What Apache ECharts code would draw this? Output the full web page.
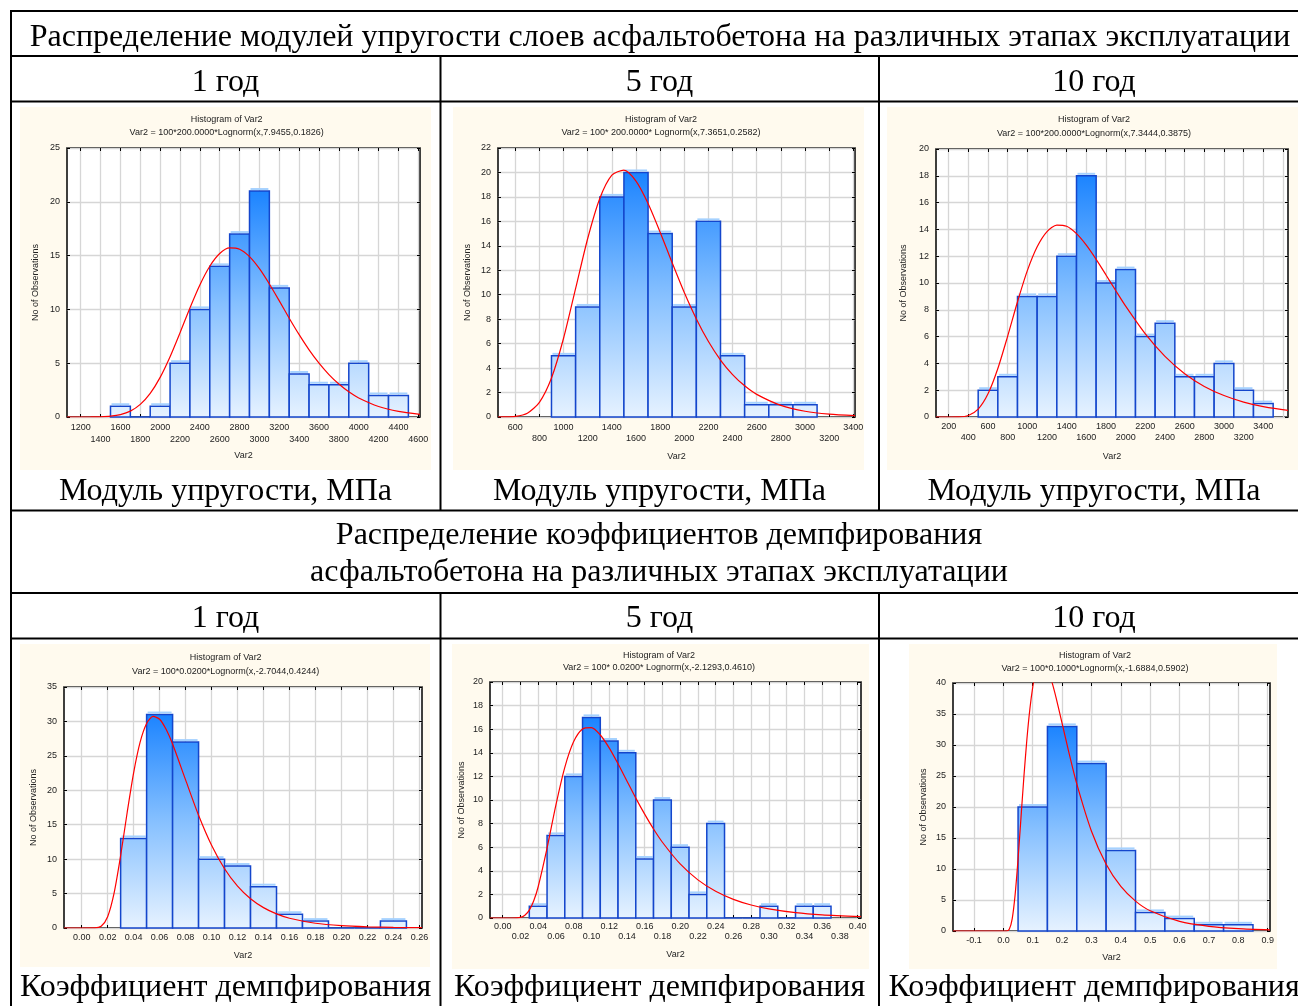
<!DOCTYPE html>
<html>
<head>
<meta charset="utf-8">
<script src="https://cdn.jsdelivr.net/npm/echarts@6/dist/echarts.min.js"></script>
<style>
html, body { margin: 0; padding: 0; background: #fff; }
#main { width: 1298px; height: 1006px; }
</style>
</head>
<body>
<div id="main"></div>
<script>
// модуль упругости, 1 год: нижние границы интервалов и частоты
var mod1Edges = [1500, 1700, 1900, 2100, 2300, 2500, 2700, 2900, 3100, 3300, 3500, 3700, 3900, 4100, 4300];
var mod1Counts = [1, 0, 1, 5, 10, 14, 17, 21, 12, 4, 3, 3, 5, 2, 2];
var mod1Ticks = [1200, 1400, 1600, 1800, 2000, 2200, 2400, 2600, 2800, 3000, 3200, 3400, 3600, 3800, 4000, 4200, 4400, 4600];
var mod1CurveX = [1062, 1300, 1400, 1500, 1600, 1700, 1800, 1900, 2000, 2100, 2200, 2300, 2400, 2500, 2600, 2700, 2800, 2900, 3000, 3100, 3200, 3300, 3400, 3500, 3600, 3700, 3800, 3900, 4000, 4200, 4400, 4617];
var mod1CurveY = [0, 0.004, 0.02, 0.073, 0.218, 0.544, 1.17, 2.19, 3.68, 5.60, 7.82, 10.13, 12.27, 14.01, 15.19, 15.71, 15.59, 14.90, 13.78, 12.36, 10.79, 9.18, 7.65, 6.24, 5.00, 3.94, 3.06, 2.34, 1.77, 0.98, 0.52, 0.25];

// модуль упругости, 5 год
var mod5Edges = [900, 1100, 1300, 1500, 1700, 1900, 2100, 2300, 2500, 2700, 2900];
var mod5Counts = [5, 9, 18, 20, 15, 9, 16, 5, 1, 1, 1];
var mod5Ticks = [600, 800, 1000, 1200, 1400, 1600, 1800, 2000, 2200, 2400, 2600, 2800, 3000, 3200, 3400];
var mod5CurveX = [457, 500, 600, 700, 800, 900, 1000, 1100, 1200, 1300, 1400, 1500, 1600, 1700, 1800, 1900, 2000, 2100, 2200, 2300, 2400, 2500, 2600, 2800, 3000, 3200, 3414];
var mod5CurveY = [0, 0.003, 0.046, 0.31, 1.20, 3.19, 6.44, 10.52, 14.60, 17.87, 19.78, 20.19, 19.29, 17.46, 15.11, 12.60, 10.18, 8.02, 6.17, 4.66, 3.47, 2.55, 1.85, 0.95, 0.47, 0.23, 0.105];

// модуль упругости, 10 год
var mod10Edges = [500, 700, 900, 1100, 1300, 1500, 1700, 1900, 2100, 2300, 2500, 2700, 2900, 3100, 3300];
var mod10Counts = [2, 3, 9, 9, 12, 18, 10, 11, 6, 7, 3, 3, 4, 2, 1];
var mod10Ticks = [200, 400, 600, 800, 1000, 1200, 1400, 1600, 1800, 2000, 2200, 2400, 2600, 2800, 3000, 3200, 3400, 3600];
var mod10CurveX = [71, 200, 300, 400, 500, 600, 700, 800, 900, 1000, 1100, 1200, 1300, 1400, 1500, 1600, 1700, 1800, 1900, 2000, 2200, 2400, 2600, 2800, 3000, 3200, 3400, 3651];
var mod10CurveY = [0, 0.0003, 0.009, 0.116, 0.587, 1.73, 3.62, 6.04, 8.60, 10.92, 12.70, 13.83, 14.32, 14.23, 13.68, 12.82, 11.76, 10.60, 9.42, 8.27, 6.20, 4.52, 3.23, 2.28, 1.60, 1.11, 0.77, 0.49];

// коэффициент демпфирования, 1 год
var damp1Edges = [0.03, 0.05, 0.07, 0.09, 0.11, 0.13, 0.15, 0.17, 0.19, 0.21, 0.23];
var damp1Counts = [13, 31, 27, 10, 9, 6, 2, 1, 0, 0, 1];
var damp1Ticks = [0, 0.02, 0.04, 0.06, 0.08, 0.10, 0.12, 0.14, 0.16, 0.18, 0.20, 0.22, 0.24, 0.26];
var damp1CurveX = [-0.0136, 0, 0.01, 0.015, 0.02, 0.025, 0.03, 0.035, 0.04, 0.045, 0.05, 0.055, 0.06, 0.065, 0.07, 0.08, 0.09, 0.10, 0.11, 0.12, 0.13, 0.14, 0.15, 0.16, 0.18, 0.20, 0.22, 0.24, 0.262];
var damp1CurveY = [0, 0, 0.008, 0.25, 1.64, 5.10, 10.50, 16.74, 22.54, 26.99, 29.71, 30.72, 30.32, 28.86, 26.71, 21.51, 16.37, 12.01, 8.61, 6.08, 4.25, 2.96, 2.05, 1.42, 0.69, 0.34, 0.17, 0.085, 0.041];

// коэффициент демпфирования, 5 год
var damp5Edges = [0.03, 0.05, 0.07, 0.09, 0.11, 0.13, 0.15, 0.17, 0.19, 0.21, 0.23, 0.25, 0.27, 0.29, 0.31, 0.33, 0.35];
var damp5Counts = [1, 7, 12, 17, 15, 14, 5, 10, 6, 2, 8, 0, 0, 1, 0, 1, 1];
var damp5Ticks = [0, 0.02, 0.04, 0.06, 0.08, 0.10, 0.12, 0.14, 0.16, 0.18, 0.20, 0.22, 0.24, 0.26, 0.28, 0.30, 0.32, 0.34, 0.36, 0.38, 0.40];
var damp5CurveX = [-0.0143, 0, 0.01, 0.02, 0.025, 0.03, 0.035, 0.04, 0.05, 0.06, 0.07, 0.08, 0.09, 0.10, 0.11, 0.12, 0.13, 0.14, 0.15, 0.16, 0.17, 0.18, 0.20, 0.22, 0.24, 0.26, 0.28, 0.30, 0.33, 0.36, 0.4038];
var damp5CurveY = [0, 0, 0, 0.049, 0.227, 0.665, 1.46, 2.65, 5.92, 9.59, 12.77, 14.95, 16.02, 16.13, 15.51, 14.42, 13.07, 11.61, 10.16, 8.80, 7.54, 6.42, 4.58, 3.23, 2.26, 1.58, 1.10, 0.77, 0.45, 0.27, 0.127];

// коэффициент демпфирования, 10 год
var damp10Edges = [0.05, 0.15, 0.25, 0.35, 0.45, 0.55, 0.65, 0.75];
var damp10Counts = [20, 33, 27, 13, 3, 2, 1, 1];
var damp10Ticks = [-0.1, 0, 0.1, 0.2, 0.3, 0.4, 0.5, 0.6, 0.7, 0.8, 0.9];
var damp10CurveX = [-0.1716, 0, 0.01, 0.02, 0.03, 0.04, 0.05, 0.06, 0.07, 0.08, 0.09, 0.10, 0.11, 0.12, 0.13, 0.14, 0.15, 0.16, 0.17, 0.18, 0.20, 0.22, 0.25, 0.30, 0.35, 0.40, 0.45, 0.50, 0.60, 0.70, 0.80, 0.908];
var damp10CurveY = [0, 0, 0.003, 0.28, 1.96, 5.86, 11.63, 18.32, 24.96, 30.88, 35.72, 39.34, 41.75, 43.10, 43.53, 43.22, 42.33, 41.01, 39.36, 37.51, 33.50, 29.41, 23.72, 16.09, 10.76, 7.18, 4.82, 3.26, 1.54, 0.76, 0.39, 0.196];

var formulas = [
  'Var2 = 100*200.0000*Lognorm(x,7.9455,0.1826)',
  'Var2 = 100* 200.0000* Lognorm(x,7.3651,0.2582)',
  'Var2 = 100*200.0000*Lognorm(x,7.3444,0.3875)',
  'Var2 = 100*0.0200*Lognorm(x,-2.7044,0.4244)',
  'Var2 = 100* 0.0200* Lognorm(x,-2.1293,0.4610)',
  'Var2 = 100*0.1000*Lognorm(x,-1.6884,0.5902)'
];
var years = ['1 год', '5 год', '10 год'];

var SANS = 'Liberation Sans, Arial, sans-serif';
var SERIF = 'Liberation Serif, Times New Roman, serif';

// расположение панелей (координаты в пикселях страницы)
var panels = [
  { edges: mod1Edges, counts: mod1Counts, bw: 200, cx: mod1CurveX, cy: mod1CurveY, ticks: mod1Ticks,
    xMin: 1062, xMax: 4617, yMax: 25, yStep: 5, digits: 0, twoRows: true,
    box: [20, 107, 411, 363], grid: [67, 148, 353, 269], tx: 226.7, ty: [120, 133],
    lm: 5, lh: 11.6, gapX: 34, gapY: 27 },
  { edges: mod5Edges, counts: mod5Counts, bw: 200, cx: mod5CurveX, cy: mod5CurveY, ticks: mod5Ticks,
    xMin: 457, xMax: 3414, yMax: 22, yStep: 2, digits: 0, twoRows: true,
    box: [453, 107, 411, 363], grid: [498, 148, 357, 269], tx: 661, ty: [120, 133],
    lm: 5, lh: 11, gapX: 35, gapY: 26 },
  { edges: mod10Edges, counts: mod10Counts, bw: 200, cx: mod10CurveX, cy: mod10CurveY, ticks: mod10Ticks,
    xMin: 71, xMax: 3651, yMax: 20, yStep: 2, digits: 0, twoRows: true,
    box: [887, 107, 411, 363], grid: [936, 149, 352, 268], tx: 1094, ty: [120, 134],
    lm: 4, lh: 11, gapX: 35, gapY: 28 },
  { edges: damp1Edges, counts: damp1Counts, bw: 0.02, cx: damp1CurveX, cy: damp1CurveY, ticks: damp1Ticks,
    xMin: -0.0136, xMax: 0.262, yMax: 35, yStep: 5, digits: 2, twoRows: false,
    box: [20, 644, 410, 323], grid: [64, 687, 358, 241], tx: 225.7, ty: [658, 672],
    lm: 4, lh: 11, gapX: 23.5, gapY: 26 },
  { edges: damp5Edges, counts: damp5Counts, bw: 0.02, cx: damp5CurveX, cy: damp5CurveY, ticks: damp5Ticks,
    xMin: -0.0143, xMax: 0.4038, yMax: 20, yStep: 2, digits: 2, twoRows: true,
    box: [452, 644, 417, 325], grid: [490, 682, 371, 236], tx: 659, ty: [656, 668],
    lm: 4, lh: 10, gapX: 32, gapY: 24 },
  { edges: damp10Edges, counts: damp10Counts, bw: 0.1, cx: damp10CurveX, cy: damp10CurveY, ticks: damp10Ticks,
    xMin: -0.1716, xMax: 0.908, yMax: 40, yStep: 5, digits: 1, twoRows: false,
    box: [909, 644, 368, 325], grid: [953, 683, 317, 248], tx: 1095, ty: [656, 669],
    lm: 4, lh: 11, gapX: 22, gapY: 24.5 }
];

var myChart = echarts.init(document.getElementById('main'));

var option = {
  animation: false,
  backgroundColor: '#fff',
  grid: [], xAxis: [], yAxis: [], series: [], graphic: []
};

function txt(s, x, y, size, family, color) {
  return {
    type: 'text', z: 10,
    style: {
      text: s, x: x, y: y, fontSize: size, fontFamily: family, fill: color || '#000',
      textAlign: 'center', textVerticalAlign: 'middle', align: 'center', verticalAlign: 'middle'
    }
  };
}
function hline(y, x1, x2) {
  return { type: 'line', z: 10, shape: { x1: x1, y1: y, x2: x2, y2: y }, style: { stroke: '#000', lineWidth: 2 } };
}
function vline(x, y1, y2) {
  return { type: 'line', z: 10, shape: { x1: x, y1: y1, x2: x, y2: y2 }, style: { stroke: '#000', lineWidth: 2 } };
}

var labelColor = '#222';

panels.forEach(function (p, i) {
  var step = p.ticks[1] - p.ticks[0];
  var tickStyle = { color: '#000', width: 1 };

  option.grid.push({
    left: p.grid[0], top: p.grid[1], width: p.grid[2], height: p.grid[3],
    show: true, backgroundColor: '#fff', borderColor: '#000', borderWidth: 1.5
  });

  option.xAxis.push({
    gridIndex: i, type: 'value', min: p.xMin, max: p.xMax,
    axisLine: { show: false, onZero: false },
    axisTick: { show: true, inside: true, length: 3, customValues: p.ticks, lineStyle: tickStyle },
    axisLabel: {
      customValues: p.ticks, margin: p.lm, fontSize: 9, fontFamily: SANS, color: labelColor,
      lineHeight: p.lh,
      formatter: function (v) {
        var s = v.toFixed(p.digits);
        if (!p.twoRows) return s;
        var k = Math.round((v - p.ticks[0]) / step);
        return k % 2 ? '\n' + s : s;
      }
    },
    splitLine: { show: true, lineStyle: { color: '#d6d6d6', width: 1.3 } },
    name: 'Var2', nameLocation: 'middle', nameGap: p.gapX,
    nameTextStyle: { fontSize: 9, fontFamily: SANS, color: labelColor }
  });
  option.xAxis.push({
    gridIndex: i, type: 'value', position: 'top', min: p.xMin, max: p.xMax,
    axisLine: { show: false, onZero: false },
    axisTick: { show: true, inside: true, length: 3, customValues: p.ticks, lineStyle: tickStyle },
    axisLabel: { show: false }, splitLine: { show: false }
  });

  option.yAxis.push({
    gridIndex: i, type: 'value', min: 0, max: p.yMax, interval: p.yStep,
    axisLine: { show: false, onZero: false },
    axisTick: { show: true, inside: true, length: 3, lineStyle: tickStyle },
    axisLabel: { margin: 7, fontSize: 9, fontFamily: SANS, color: labelColor },
    splitLine: { show: true, lineStyle: { color: '#d6d6d6', width: 1.3 } },
    name: 'No of Observations', nameLocation: 'middle', nameGap: p.gapY,
    nameTextStyle: { fontSize: 9, fontFamily: SANS, color: labelColor }
  });
  option.yAxis.push({
    gridIndex: i, type: 'value', position: 'right', min: 0, max: p.yMax, interval: p.yStep,
    axisLine: { show: false, onZero: false },
    axisTick: { show: true, inside: true, length: 3, lineStyle: tickStyle },
    axisLabel: { show: false }, splitLine: { show: false }
  });

  var peak = Math.max.apply(null, p.counts);
  var barData = p.edges.map(function (e, k) { return [e, e + p.bw, p.counts[k]]; });

  option.series.push({
    type: 'custom', xAxisIndex: 2 * i, yAxisIndex: 2 * i, z: 3,
    data: barData,
    encode: { x: [0, 1], y: 2 },
    renderItem: function (params, api) {
      var a = api.coord([api.value(0), api.value(2)]);
      var b = api.coord([api.value(1), 0]);
      var top = api.coord([api.value(0), peak])[1];
      var grad = new echarts.graphic.LinearGradient(0, top, 0, b[1], [
        { offset: 0, color: '#1c84ff' },
        { offset: 0.5, color: '#86c0ff' },
        { offset: 1, color: '#e6f2ff' }
      ], true);
      var kids = [{
        type: 'rect',
        shape: { x: a[0], y: a[1], width: b[0] - a[0], height: b[1] - a[1] },
        style: { fill: grad, stroke: '#1446cc', lineWidth: 1.5 }
      }];
      if (api.value(2) > 0) {
        kids.push({
          type: 'line',
          shape: { x1: a[0] + 1, y1: a[1] - 2, x2: b[0] - 1, y2: a[1] - 2 },
          style: { stroke: '#a6d2ff', lineWidth: 2 }
        });
      }
      return { type: 'group', children: kids };
    }
  });

  option.series.push({
    type: 'line', xAxisIndex: 2 * i, yAxisIndex: 2 * i, z: 4,
    data: p.cx.map(function (x, k) { return [x, p.cy[k]]; }),
    smooth: 0.25, showSymbol: false, clip: true,
    lineStyle: { color: '#ff0000', width: 1.2 }
  });

  // кремовая подложка графика и заголовки
  option.graphic.push({
    type: 'rect', z: -5,
    shape: { x: p.box[0], y: p.box[1], width: p.box[2], height: p.box[3] },
    style: { fill: '#fffaee' }
  });
  option.graphic.push(txt('Histogram of Var2', p.tx, p.ty[0], 9, SANS, labelColor));
  option.graphic.push(txt(formulas[i], p.tx, p.ty[1], 9, SANS, labelColor));
});

// таблица
var colX = [225.5, 659.5, 1094];
option.graphic.push(hline(11, 10, 1298));
option.graphic.push(hline(56, 10, 1298));
option.graphic.push(hline(101.5, 10, 1298));
option.graphic.push(hline(510.5, 10, 1298));
option.graphic.push(hline(593, 10, 1298));
option.graphic.push(hline(638.5, 10, 1298));
option.graphic.push(vline(11, 10, 1006));
option.graphic.push(vline(440.5, 56, 510.5));
option.graphic.push(vline(879, 56, 510.5));
option.graphic.push(vline(440.5, 593, 1006));
option.graphic.push(vline(879, 593, 1006));

option.graphic.push(txt('Распределение модулей упругости слоев асфальтобетона на различных этапах эксплуатации', 660, 38, 32, SERIF));
option.graphic.push(txt('Распределение коэффициентов демпфирования', 659, 536, 32, SERIF));
option.graphic.push(txt('асфальтобетона на различных этапах эксплуатации', 659, 573, 32, SERIF));
colX.forEach(function (x, k) {
  option.graphic.push(txt(years[k], x, 83, 32, SERIF));
  option.graphic.push(txt(years[k], x, 619, 32, SERIF));
  option.graphic.push(txt('Модуль упругости, МПа', x, 492, 32, SERIF));
  option.graphic.push(txt('Коэффициент демпфирования', x, 988, 32, SERIF));
});

myChart.setOption(option);
</script>
</body>
</html>
